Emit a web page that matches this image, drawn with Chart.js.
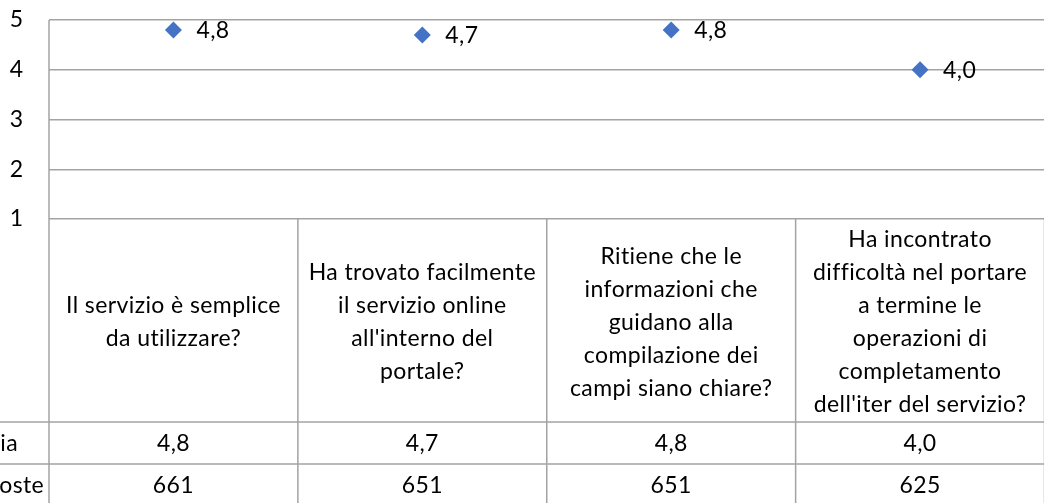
<!DOCTYPE html>
<html lang="it">
<head>
<meta charset="utf-8">
<title>Valutazione del servizio</title>
<script src="https://cdn.jsdelivr.net/npm/chart.js@4.4.1/dist/chart.umd.min.js"></script>
<style>
    html, body { margin: 0; padding: 0; background: #ffffff; overflow: hidden; }
    #wrap { position: absolute; left: 0; top: 0; }
</style>
</head>
<body>
<div id="wrap"><canvas id="chart" width="1053" height="503"></canvas></div>
<script>
// Data
const categories = [
    ['Il servizio è semplice', 'da utilizzare?'],
    ['Ha trovato facilmente', 'il servizio online', "all'interno del", 'portale?'],
    ['Ritiene che le', 'informazioni che', 'guidano alla', 'compilazione dei', 'campi siano chiare?'],
    ['Ha incontrato', 'difficoltà nel portare', 'a termine le', 'operazioni di', 'completamento', "dell'iter del servizio?"]
];
const mediaValues = [4.8, 4.7, 4.8, 4.0];
const risposteValues = [661, 651, 651, 625];
const rowLabels = ['Media', 'Risposte'];
const yTicks = [1, 2, 3, 4, 5];

const FONT = 'Lato, "Liberation Sans", sans-serif';
const FONT_SIZE = 23;
const GRID = '#a3a3a3';
const TEXT = '#000000';

const fmt = v => v.toFixed(1).replace('.', ',');

// Table drawn under the plot area (Excel style data table)
const dataTablePlugin = {
    id: 'dataTable',
    afterDraw(chart) {
        const ctx = chart.ctx;
        const x = chart.scales.x;
        const area = chart.chartArea;
        const step = x.getPixelForValue(1) - x.getPixelForValue(0);
        const headerBottom = area.bottom + 203;
        const row1Bottom = headerBottom + 42;
        const row2Bottom = row1Bottom + 42;

        ctx.save();
        ctx.strokeStyle = GRID;
        ctx.lineWidth = 1.5;

        // left border of plot + table
        ctx.beginPath();
        ctx.moveTo(area.left, area.top);
        ctx.lineTo(area.left, chart.height);
        ctx.stroke();

        // column separators
        categories.forEach((c, i) => {
            const xr = x.getPixelForValue(i) + step / 2;
            ctx.beginPath();
            ctx.moveTo(xr, area.bottom);
            ctx.lineTo(xr, chart.height);
            ctx.stroke();
        });

        // row separators
        [headerBottom, row1Bottom, row2Bottom].forEach(y => {
            ctx.beginPath();
            ctx.moveTo(0, y);
            ctx.lineTo(area.right, y);
            ctx.stroke();
        });

        ctx.fillStyle = TEXT;
        ctx.font = FONT_SIZE + 'px ' + FONT;
        ctx.letterSpacing = '0.4px'; // also stops the "ti" ligature of Lato
        ctx.textAlign = 'center';
        ctx.textBaseline = 'middle';

        const lineH = 33;
        const headerMid = (area.bottom + headerBottom) / 2 + 2;
        categories.forEach((lines, i) => {
            const cx = x.getPixelForValue(i);
            const y0 = headerMid - (lines.length - 1) * lineH / 2;
            lines.forEach((t, j) => ctx.fillText(t, cx, y0 + j * lineH));
            ctx.fillText(fmt(mediaValues[i]), cx, (headerBottom + row1Bottom) / 2 + 1);
            ctx.fillText(String(risposteValues[i]), cx, (row1Bottom + row2Bottom) / 2 + 1);
        });

        // row labels, cut off at the left edge like the original
        ctx.textAlign = 'left';
        ctx.fillText(rowLabels[0], -47, (headerBottom + row1Bottom) / 2 + 1);
        ctx.fillText(rowLabels[1], -45, (row1Bottom + row2Bottom) / 2 + 1);

        // data labels next to the markers
        const meta = chart.getDatasetMeta(0);
        meta.data.forEach((pt, i) => {
            ctx.fillText(fmt(mediaValues[i]), pt.x + 23, pt.y + 1);
        });
        ctx.restore();
    }
};

new Chart(document.getElementById('chart'), {
    type: 'line',
    data: {
        labels: categories.map(c => c.join(' ')),
        datasets: [{
            label: 'Media',
            data: mediaValues,
            showLine: false,
            pointStyle: 'rectRot',
            pointRadius: 8.5,
            pointHoverRadius: 8.5,
            pointBackgroundColor: '#4472c4',
            pointBorderWidth: 0
        }]
    },
    options: {
        responsive: false,
        animation: false,
        events: [],
        layout: {
            padding: { top: 20, right: 0, bottom: 284, left: 0 }
        },
        plugins: {
            legend: { display: false },
            tooltip: { enabled: false }
        },
        scales: {
            x: {
                type: 'category',
                offset: true,
                display: false
            },
            y: {
                min: yTicks[0],
                max: yTicks[yTicks.length - 1],
                afterBuildTicks: scale => {
                    scale.ticks = yTicks.map(v => ({ value: v }));
                },
                afterFit: scale => {
                    scale.width = 49;
                    scale.paddingTop = 0;
                    scale.paddingBottom = 0;
                },
                border: { display: false },
                grid: {
                    color: GRID,
                    lineWidth: 1.5,
                    drawTicks: false
                },
                ticks: {
                    padding: 26,
                    color: TEXT,
                    font: { family: FONT, size: FONT_SIZE }
                }
            }
        }
    },
    plugins: [dataTablePlugin]
});
</script>
</body>
</html>
